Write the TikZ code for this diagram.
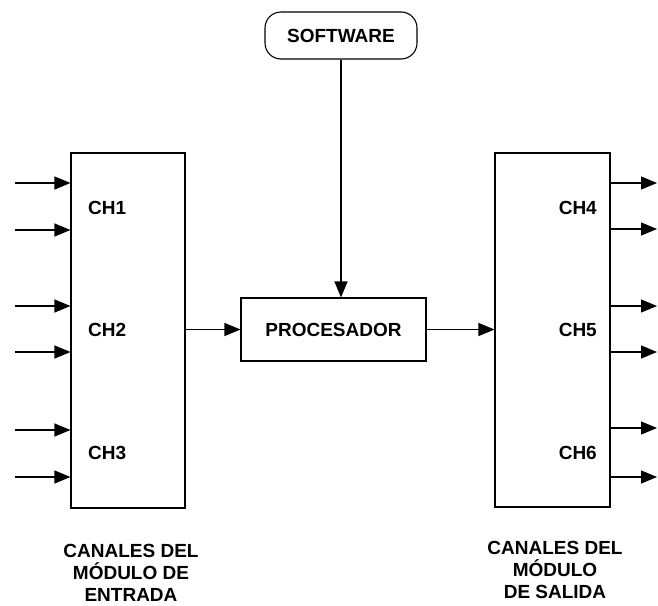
\documentclass[tikz,border=0pt]{standalone}
\usepackage{fontspec}
\setmainfont{Liberation Sans}
\usetikzlibrary{arrows.meta}
\begin{document}
\begin{tikzpicture}[x=1pt,y=-1pt,
  every node/.style={font=\bfseries\fontsize{19}{22}\selectfont},
  blk/.style={draw,line width=1.1pt,inner sep=0pt},
  arr/.style={line width=1.1pt,-{Triangle[length=16pt,width=13pt]}},
  lbl/.style={inner sep=0pt},
  captext/.style={align=center,inner sep=0pt}]
\useasboundingbox (0,0) rectangle (658,605);
\node[blk,minimum width=114pt,minimum height=355pt] (in) at (128,330.5) {};
\node[blk,minimum width=115pt,minimum height=354pt] (out) at (552.5,330) {};
\node[blk,minimum width=185pt,minimum height=63pt] (proc) at (333.5,329.5) {PROCESADOR};
\node[blk,rounded corners=16pt,minimum width=152pt,minimum height=47pt] (soft) at (341,35.5) {SOFTWARE};
\node[lbl,anchor=west] (ch1) at (88,208) {CH1};
\node[lbl,anchor=west] (ch2) at (88,330) {CH2};
\node[lbl,anchor=west] (ch3) at (88,453) {CH3};
\node[lbl,anchor=east] (ch4) at (597,208) {CH4};
\node[lbl,anchor=east] (ch5) at (597,330) {CH5};
\node[lbl,anchor=east] (ch6) at (597,453) {CH6};
\node[captext] (capin) at (131,573) {CANALES DEL\\MÓDULO DE\\ENTRADA};
\node[captext] (capout) at (555,570) {CANALES DEL\\MÓDULO\\DE SALIDA};
\foreach \y [count=\i] in {183,230,306,352,430,477}{
  \coordinate (i\i) at (15,\y);
  \draw[arr] (i\i) -- (in.west |- i\i);
}
\foreach \y [count=\i] in {183,229,306,352,428,477}{
  \coordinate (o\i) at (657,\y);
  \draw[arr] (out.east |- o\i) -- (o\i);
}
\draw[arr] (in.east |- proc.west) -- (proc.west);
\draw[arr] (proc.east) -- (out.west |- proc.east);
\draw[arr] (soft.south) -- (soft.south |- proc.north);
\end{tikzpicture}
\end{document}
